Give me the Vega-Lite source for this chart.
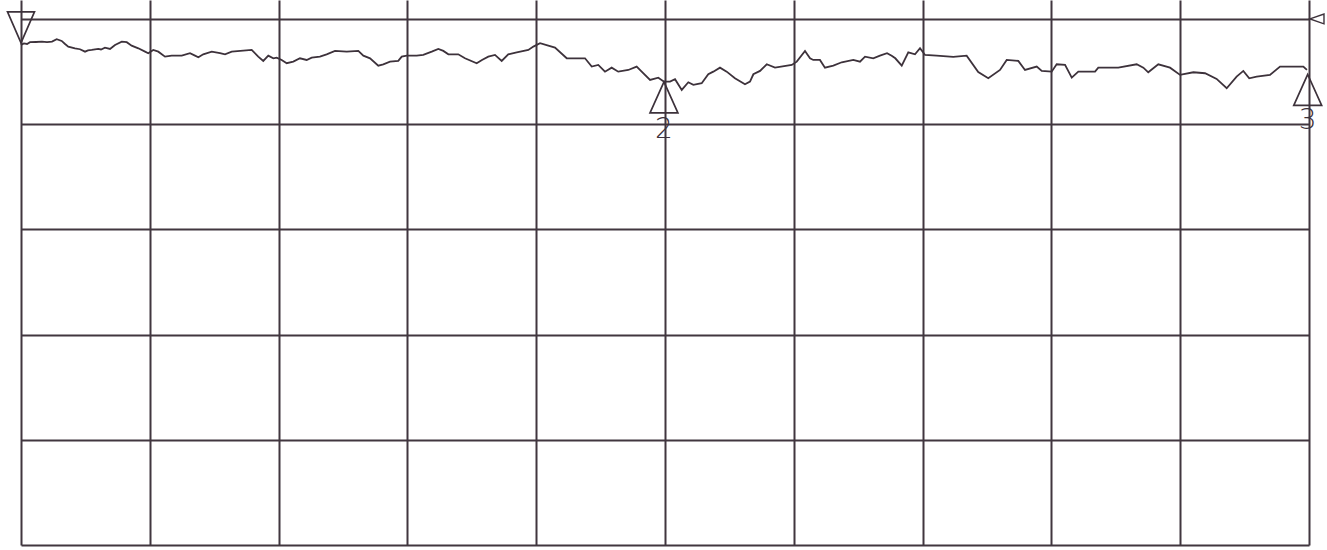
{
  "$schema": "https://vega.github.io/schema/vega-lite/v6.json",
  "width": 1288,
  "height": 545,
  "autosize": {"type": "none"},
  "padding": {"left": 21, "top": 0, "right": 18, "bottom": 5},
  "background": "white",
  "config": {
    "view": {"stroke": null},
    "axis": {"gridColor": "#41363f", "gridWidth": 2, "gridOpacity": 1, "labels": false, "ticks": false, "domain": false, "title": null}
  },
  "datasets": {
    "trace": [
      {"f": 0, "level": -2.47}, {"f": 0.023, "level": -2.33}, {"f": 0.047, "level": -2.38}, {"f": 0.07, "level": -2.21},
      {"f": 0.116, "level": -2.19}, {"f": 0.163, "level": -2.16}, {"f": 0.202, "level": -2.21}, {"f": 0.241, "level": -2.16},
      {"f": 0.277, "level": -1.93}, {"f": 0.316, "level": -2.09}, {"f": 0.342, "level": -2.38}, {"f": 0.367, "level": -2.63},
      {"f": 0.419, "level": -2.79}, {"f": 0.458, "level": -2.88}, {"f": 0.497, "level": -3.11}, {"f": 0.52, "level": -2.99},
      {"f": 0.549, "level": -2.95}, {"f": 0.6, "level": -2.85}, {"f": 0.621, "level": -2.9}, {"f": 0.652, "level": -2.73},
      {"f": 0.691, "level": -2.85}, {"f": 0.73, "level": -2.47}, {"f": 0.782, "level": -2.16}, {"f": 0.821, "level": -2.21},
      {"f": 0.859, "level": -2.54}, {"f": 0.911, "level": -2.79}, {"f": 0.963, "level": -3.11}, {"f": 0.988, "level": -3.26},
      {"f": 1.027, "level": -2.95}, {"f": 1.066, "level": -3.11}, {"f": 1.118, "level": -3.58}, {"f": 1.17, "level": -3.49},
      {"f": 1.248, "level": -3.49}, {"f": 1.312, "level": -3.26}, {"f": 1.351, "level": -3.49}, {"f": 1.377, "level": -3.64},
      {"f": 1.415, "level": -3.36}, {"f": 1.481, "level": -3.11}, {"f": 1.545, "level": -3.26}, {"f": 1.584, "level": -3.36},
      {"f": 1.636, "level": -3.11}, {"f": 1.791, "level": -2.95}, {"f": 1.842, "level": -3.58}, {"f": 1.881, "level": -3.99},
      {"f": 1.92, "level": -3.49}, {"f": 1.959, "level": -3.74}, {"f": 1.985, "level": -3.68}, {"f": 2.024, "level": -3.9},
      {"f": 2.063, "level": -4.21}, {"f": 2.114, "level": -4.06}, {"f": 2.166, "level": -3.74}, {"f": 2.218, "level": -3.9},
      {"f": 2.257, "level": -3.68}, {"f": 2.321, "level": -3.58}, {"f": 2.373, "level": -3.36}, {"f": 2.438, "level": -3.04},
      {"f": 2.529, "level": -3.11}, {"f": 2.619, "level": -3.04}, {"f": 2.658, "level": -3.49}, {"f": 2.71, "level": -3.74},
      {"f": 2.774, "level": -4.44}, {"f": 2.813, "level": -4.31}, {"f": 2.865, "level": -4.06}, {"f": 2.929, "level": -3.99},
      {"f": 2.956, "level": -3.58}, {"f": 2.995, "level": -3.49}, {"f": 3.072, "level": -3.49}, {"f": 3.123, "level": -3.42},
      {"f": 3.189, "level": -3.11}, {"f": 3.24, "level": -2.85}, {"f": 3.279, "level": -3.04}, {"f": 3.318, "level": -3.36},
      {"f": 3.395, "level": -3.36}, {"f": 3.447, "level": -3.74}, {"f": 3.538, "level": -4.21}, {"f": 3.579, "level": -3.9},
      {"f": 3.628, "level": -3.58}, {"f": 3.68, "level": -3.42}, {"f": 3.732, "level": -3.99}, {"f": 3.783, "level": -3.36},
      {"f": 3.849, "level": -3.17}, {"f": 3.939, "level": -2.95}, {"f": 3.978, "level": -2.63}, {"f": 4.03, "level": -2.31},
      {"f": 4.094, "level": -2.54}, {"f": 4.146, "level": -2.73}, {"f": 4.237, "level": -3.74}, {"f": 4.379, "level": -3.74},
      {"f": 4.431, "level": -4.53}, {"f": 4.482, "level": -4.37}, {"f": 4.534, "level": -5.01}, {"f": 4.586, "level": -4.63},
      {"f": 4.637, "level": -5.01}, {"f": 4.715, "level": -4.85}, {"f": 4.78, "level": -4.53}, {"f": 4.819, "level": -5.01},
      {"f": 4.884, "level": -5.8}, {"f": 4.948, "level": -5.58}, {"f": 4.992, "level": -5.96}, {"f": 5.039, "level": -5.96},
      {"f": 5.078, "level": -5.73}, {"f": 5.13, "level": -6.75}, {"f": 5.181, "level": -6.02}, {"f": 5.22, "level": -6.27},
      {"f": 5.285, "level": -6.11}, {"f": 5.336, "level": -5.26}, {"f": 5.375, "level": -5.01}, {"f": 5.427, "level": -4.63},
      {"f": 5.479, "level": -5.01}, {"f": 5.543, "level": -5.64}, {"f": 5.621, "level": -6.21}, {"f": 5.66, "level": -5.96},
      {"f": 5.686, "level": -5.26}, {"f": 5.738, "level": -4.94}, {"f": 5.79, "level": -4.31}, {"f": 5.854, "level": -4.63},
      {"f": 5.984, "level": -4.37}, {"f": 6.023, "level": -4.06}, {"f": 6.087, "level": -3.04}, {"f": 6.126, "level": -3.74},
      {"f": 6.151, "level": -3.9}, {"f": 6.203, "level": -3.9}, {"f": 6.242, "level": -4.63}, {"f": 6.307, "level": -4.44},
      {"f": 6.372, "level": -4.12}, {"f": 6.462, "level": -3.9}, {"f": 6.514, "level": -4.06}, {"f": 6.553, "level": -3.58},
      {"f": 6.617, "level": -3.74}, {"f": 6.669, "level": -3.49}, {"f": 6.724, "level": -3.26}, {"f": 6.76, "level": -3.49},
      {"f": 6.788, "level": -3.74}, {"f": 6.838, "level": -4.44}, {"f": 6.889, "level": -3.17}, {"f": 6.941, "level": -3.36},
      {"f": 6.98, "level": -2.79}, {"f": 7.019, "level": -3.42}, {"f": 7.109, "level": -3.49}, {"f": 7.238, "level": -3.61},
      {"f": 7.342, "level": -3.49}, {"f": 7.432, "level": -5.04}, {"f": 7.51, "level": -5.64}, {"f": 7.601, "level": -4.85},
      {"f": 7.653, "level": -3.9}, {"f": 7.743, "level": -3.99}, {"f": 7.795, "level": -4.85}, {"f": 7.886, "level": -4.53},
      {"f": 7.925, "level": -4.94}, {"f": 8.002, "level": -5.01}, {"f": 8.041, "level": -4.31}, {"f": 8.106, "level": -4.37},
      {"f": 8.158, "level": -5.58}, {"f": 8.209, "level": -5.01}, {"f": 8.339, "level": -5.01}, {"f": 8.364, "level": -4.63},
      {"f": 8.519, "level": -4.63}, {"f": 8.662, "level": -4.31}, {"f": 8.714, "level": -4.63}, {"f": 8.752, "level": -5.07},
      {"f": 8.83, "level": -4.31}, {"f": 8.921, "level": -4.63}, {"f": 8.999, "level": -5.32}, {"f": 9.102, "level": -5.07},
      {"f": 9.193, "level": -5.16}, {"f": 9.283, "level": -5.7}, {"f": 9.361, "level": -6.59}, {"f": 9.438, "level": -5.48},
      {"f": 9.49, "level": -4.94}, {"f": 9.536, "level": -5.64}, {"f": 9.594, "level": -5.48}, {"f": 9.697, "level": -5.32},
      {"f": 9.775, "level": -4.53}, {"f": 9.956, "level": -4.53}, {"f": 9.984, "level": -4.85}
    ],
    "markers": [
      {"f": 0, "level": -0.81, "kind": "down"},
      {"f": 4.992, "level": -7.46, "kind": "up"},
      {"f": 9.99, "level": -6.75, "kind": "up"}
    ],
    "labels": [
      {"f": 4.992, "level": -10.6, "label": "2"},
      {"f": 9.99, "level": -9.7, "label": "3"}
    ],
    "reference": [
      {"f": 10.062, "level": 0}
    ]
  },
  "layer": [
    {
      "data": {"name": "trace"},
      "mark": {"type": "line", "color": "#3d323b", "strokeWidth": 1.8, "clip": false},
      "encoding": {
        "x": {"field": "f", "type": "quantitative", "scale": {"domain": [0, 10], "nice": false, "zero": false},
              "axis": {"values": [0, 1, 2, 3, 4, 5, 6, 7, 8, 9, 10], "grid": true}},
        "y": {"field": "level", "type": "quantitative", "scale": {"domain": [-50, 1.8], "nice": false, "zero": false},
              "axis": {"values": [0, -10, -20, -30, -40, -50], "grid": true}}
      }
    },
    {
      "data": {"name": "markers"},
      "transform": [{"filter": "datum.kind === 'up'"}],
      "mark": {"type": "point", "shape": "M0,-1L-0.9,1L0.9,1Z", "size": 961, "filled": false, "opacity": 1, "stroke": "#3d323b", "strokeWidth": 1.7, "clip": false},
      "encoding": {
        "x": {"field": "f", "type": "quantitative"},
        "y": {"field": "level", "type": "quantitative"}
      }
    },
    {
      "data": {"name": "markers"},
      "transform": [{"filter": "datum.kind === 'down'"}],
      "mark": {"type": "point", "shape": "M-0.87,-1L0.87,-1L0,1Z", "size": 961, "filled": false, "opacity": 1, "stroke": "#3d323b", "strokeWidth": 1.7, "clip": false},
      "encoding": {
        "x": {"field": "f", "type": "quantitative"},
        "y": {"field": "level", "type": "quantitative"}
      }
    },
    {
      "data": {"name": "reference"},
      "mark": {"type": "point", "shape": "M-1,0L1,-0.7L1,0.7Z", "size": 196, "filled": false, "opacity": 1, "stroke": "#3d323b", "strokeWidth": 1.4, "clip": false},
      "encoding": {
        "x": {"field": "f", "type": "quantitative"},
        "y": {"field": "level", "type": "quantitative"}
      }
    },
    {
      "data": {"name": "labels"},
      "mark": {"type": "text", "font": "DejaVu Sans", "fontSize": 28, "fontWeight": 300, "color": "#3d323b", "align": "center", "baseline": "middle", "clip": false},
      "encoding": {
        "x": {"field": "f", "type": "quantitative"},
        "y": {"field": "level", "type": "quantitative"},
        "text": {"field": "label"}
      }
    }
  ]
}
